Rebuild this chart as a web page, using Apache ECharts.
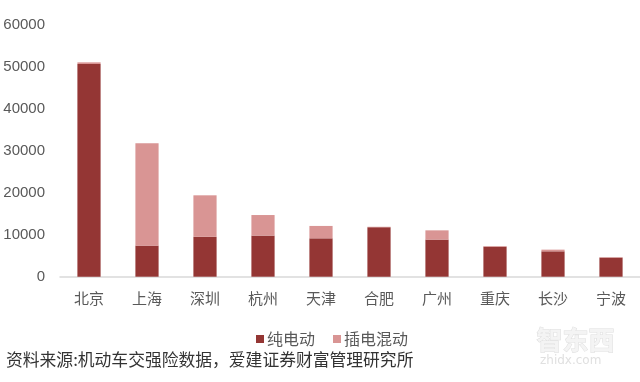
<!DOCTYPE html>
<html><head><meta charset="utf-8">
<script src="https://cdn.jsdelivr.net/npm/echarts@6/dist/echarts.min.js"></script>
<style>html,body{margin:0;padding:0;background:#fff}#c{width:640px;height:382px}</style>
</head><body><div id="c"></div>
<script>
var categories = ['北京','上海','深圳','杭州','天津','合肥','广州','重庆','长沙','宁波'];
var bev = [50700, 7400, 9500, 9800, 9150, 11800, 8850, 7150, 6050, 4550];
var phev = [400, 24400, 9900, 4900, 2950, 100, 2200, 150, 400, 100];
var yTicks = [0, 10000, 20000, 30000, 40000, 50000, 60000];
var seriesNames = ['纯电动','插电混动'];

var chart = echarts.init(document.getElementById('c'));
chart.setOption({
  animation: false,
  grid: {left: 60, top: 25, width: 584, height: 251.7},
  legend: {
    data: seriesNames, left: 251, top: 326, itemWidth: 8, itemHeight: 8, itemGap: 18,
    icon: 'rect',
    textStyle: {fontFamily: 'Noto Sans CJK SC', fontSize: 16, color: '#595959', padding: [0,0,0,-2]}
  },
  xAxis: {
    type: 'category', data: categories,
    axisLine: {lineStyle: {color: '#d9d9d9', width: 1.5}},
    axisTick: {show: false},
    axisLabel: {fontFamily: 'Noto Sans CJK SC', fontSize: 15, color: '#595959', margin: 14}
  },
  yAxis: {
    type: 'value', min: yTicks[0], max: yTicks[yTicks.length - 1], interval: yTicks[1] - yTicks[0],
    axisLine: {show: false}, axisTick: {show: false}, splitLine: {show: false},
    axisLabel: {fontFamily: 'Liberation Sans', fontSize: 15, color: '#595959', margin: 15,
      formatter: function (v) { return String(v); }}
  },
  series: [
    {name: seriesNames[0], type: 'bar', stack: 's', data: bev, barWidth: '40%', itemStyle: {color: '#943634'}},
    {name: seriesNames[1], type: 'bar', stack: 's', data: phev, barWidth: '40%', itemStyle: {color: '#d99594'}}
  ],
  graphic: [
    {type: 'text', left: 6, top: 351, style: {text: '资料来源:机动车交强险数据，爱建证券财富管理研究所', font: '16.8px "Noto Sans CJK SC"', fill: '#333'}},
    {type: 'text', left: 536, top: 327, style: {text: '智东西', font: 'bold 26px "Noto Sans CJK SC"', fill: '#f4f4f4', stroke: '#dedede', lineWidth: 1}},
    {type: 'text', left: 540, top: 355, style: {text: 'zhidx.com', font: '12px "DejaVu Sans"', fill: '#e0e0e0'}}
  ]
});
</script></body></html>
